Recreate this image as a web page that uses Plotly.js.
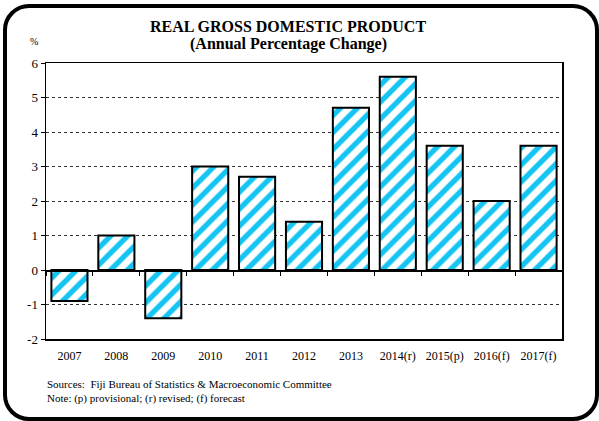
<!DOCTYPE html>
<html>
<head>
<meta charset="utf-8">
<script src="https://cdn.plot.ly/plotly-3.0.1.min.js"></script>
<style>
html,body{margin:0;padding:0;background:#fff;}
#wrap{position:relative;width:599px;height:421px;}
#chart{position:absolute;left:0;top:0;width:599px;height:421px;}
#frame{position:absolute;left:3px;top:4px;width:596px;height:417px;box-sizing:border-box;border:4px solid #000;border-radius:26px;pointer-events:none;}
</style>
</head>
<body>
<div id="wrap"><div id="chart"></div><div id="frame"></div></div>
<script>
const years = ['2007','2008','2009','2010','2011','2012','2013','2014(r)','2015(p)','2016(f)','2017(f)'];
const growth = [-0.9, 1.0, -1.4, 3.0, 2.7, 1.4, 4.7, 5.6, 3.6, 2.0, 3.6];
const yTicks = [-2, -1, 0, 1, 2, 3, 4, 5, 6];
const yTickText = ['-2', '-1', '0', '1', '2', '3', '4', '5', '6'];
const titleLine1 = 'REAL GROSS DOMESTIC PRODUCT';
const titleLine2 = '(Annual Percentage Change)';
const unitLabel = '%';
const sourceNote = 'Sources:\u00a0 Fiji Bureau of Statistics & Macroeconomic Committee<br>Note: (p) provisional; (r) revised; (f) forecast';

const serif = '"Liberation Serif", "Times New Roman", Times, serif';

const traces = [
  {
    type: 'bar', x: years, y: growth, hoverinfo: 'skip',
    marker: {
      color: '#ffffff',
      line: {color: '#000', width: 2},
      pattern: {shape: '/', fgcolor: '#14C4F2', bgcolor: '#ffffff', size: 12, solidity: 0.45}
    }
  },
  {
    type: 'scatter', mode: 'none', x: years, y: growth, xaxis: 'x2', hoverinfo: 'skip', showlegend: false
  }
];

const layout = {
  width: 599, height: 421,
  margin: {l: 46, r: 37, t: 63, b: 82, pad: 0},
  paper_bgcolor: '#fff', plot_bgcolor: '#fff',
  showlegend: false,
  bargap: 0.23,
  font: {family: serif, color: '#000', size: 12},
  xaxis: {
    type: 'category', categoryarray: years, range: [-0.5, years.length - 0.5],
    showline: true, linecolor: '#000', linewidth: 1.5, mirror: true,
    ticks: '', showgrid: false, zeroline: false,
    tickfont: {family: serif, size: 12, color: '#000'},
    ticklabelstandoff: 5
  },
  xaxis2: {
    type: 'category', categoryarray: years, range: [-0.5, years.length - 0.5],
    overlaying: 'x', anchor: 'free', position: 0.25, side: 'bottom',
    showline: true, linecolor: '#000', linewidth: 1.5,
    ticks: 'outside', ticklen: 4, tickwidth: 1, tickcolor: '#000', tickson: 'boundaries',
    showticklabels: false, showgrid: false, zeroline: false
  },
  yaxis: {
    range: [-2, 6], tickvals: yTicks, ticktext: yTickText,
    showline: true, linecolor: '#000', linewidth: 1.5, mirror: true,
    ticks: 'outside', ticklen: 4, tickwidth: 1, tickcolor: '#000',
    showgrid: true, gridcolor: '#333', gridwidth: 1, griddash: 'dot',
    zeroline: false,
    tickfont: {family: serif, size: 13, color: '#000'}
  },
  annotations: [
    {text: '<b>' + titleLine1 + '</b>', xref: 'paper', yref: 'paper', x: 0.469, y: 1.133, xanchor: 'center', yanchor: 'middle', showarrow: false, font: {family: serif, size: 16, color: '#000'}},
    {text: '<b>' + titleLine2 + '</b>', xref: 'paper', yref: 'paper', x: 0.469, y: 1.069, xanchor: 'center', yanchor: 'middle', showarrow: false, font: {family: serif, size: 16, color: '#000'}},
    {text: unitLabel, xref: 'paper', yref: 'paper', x: -0.0242, y: 1.0775, xanchor: 'center', yanchor: 'middle', showarrow: false, font: {family: serif, size: 10, color: '#000'}},
    {text: sourceNote, xref: 'paper', yref: 'paper', x: 0, y: -0.134, xanchor: 'left', yanchor: 'top', align: 'left', xshift: -1, showarrow: false, font: {family: serif, size: 11, color: '#000'}}
  ]
};

Plotly.newPlot('chart', traces, layout, {staticPlot: true, displayModeBar: false});
</script>
</body>
</html>
